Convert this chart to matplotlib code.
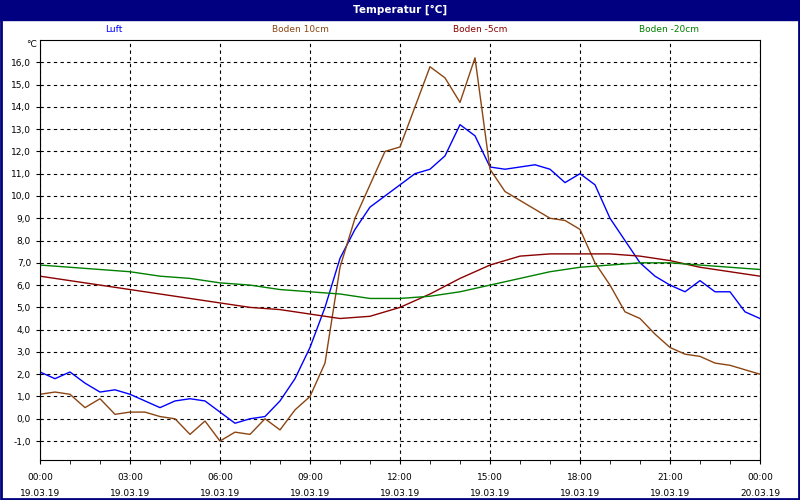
import numpy as np
import matplotlib.pyplot as plt
from matplotlib.patches import Rectangle

# Zeit in Stunden (halbstündlich bzw. stündlich)
t_half = np.arange(0, 24.01, 0.5)
t_hour = np.arange(0, 25, 1)

luft = [2.1, 1.8, 2.1, 1.6, 1.2, 1.3, 1.1, 0.8, 0.5, 0.8, 0.9, 0.8, 0.3, -0.2, 0.0, 0.1,
        0.8, 1.8, 3.2, 5.0, 7.2, 8.5, 9.5, 10.0, 10.5, 11.0, 11.2, 11.8, 13.2, 12.7, 11.3,
        11.2, 11.3, 11.4, 11.2, 10.6, 11.0, 10.5, 9.0, 8.0, 7.0, 6.4, 6.0, 5.7, 6.2, 5.7,
        5.7, 4.8, 4.5]
boden10 = [1.1, 1.2, 1.1, 0.5, 0.9, 0.2, 0.3, 0.3, 0.1, 0.0, -0.7, -0.1, -1.0, -0.6, -0.7,
           0.0, -0.5, 0.4, 1.0, 2.5, 6.8, 9.0, 10.5, 12.0, 12.2, 14.0, 15.8, 15.3, 14.2, 16.2,
           11.2, 10.2, 9.8, 9.4, 9.0, 8.9, 8.5, 7.0, 6.0, 4.8, 4.5, 3.8, 3.2, 2.9, 2.8, 2.5,
           2.4, 2.2, 2.0]
boden_5 = [6.4, 6.2, 6.0, 5.8, 5.6, 5.4, 5.2, 5.0, 4.9, 4.7, 4.5, 4.6, 5.0, 5.6, 6.3, 6.9,
           7.3, 7.4, 7.4, 7.4, 7.3, 7.1, 6.8, 6.6, 6.4]
boden_20 = [6.9, 6.8, 6.7, 6.6, 6.4, 6.3, 6.1, 6.0, 5.8, 5.7, 5.6, 5.4, 5.4, 5.5, 5.7, 6.0,
            6.3, 6.6, 6.8, 6.9, 7.0, 7.0, 6.9, 6.8, 6.7]

x_ticks = [0, 3, 6, 9, 12, 15, 18, 21, 24]
x_labels = ["00:00\n19.03.19", "03:00\n19.03.19", "06:00\n19.03.19", "09:00\n19.03.19",
            "12:00\n19.03.19", "15:00\n19.03.19", "18:00\n19.03.19", "21:00\n19.03.19",
            "00:00\n20.03.19"]
y_ticks = np.arange(-1, 17, 1)

plt.rcParams["font.family"] = "DejaVu Sans"
fig = plt.figure(figsize=(8, 5), dpi=100)

# Titelleiste und Rahmen
fig.patches.append(Rectangle((0, 0.96), 1, 0.04, transform=fig.transFigure, color="#000080"))
fig.patches.append(Rectangle((0.001, 0.002), 0.998, 0.996, transform=fig.transFigure,
                             fill=False, edgecolor="#000080", lw=2))
fig.text(0.5, 0.98, "Temperatur [°C]", color="white", fontsize=7.5, fontweight="bold",
         ha="center", va="center")

for xpos, name, col in [(0.142, "Luft", "#0000ff"), (0.375, "Boden 10cm", "#8b4513"),
                        (0.6, "Boden -5cm", "#8b0000"), (0.836, "Boden -20cm", "#008000")]:
    fig.text(xpos, 0.94, name, color=col, fontsize=6.5, ha="center", va="center")

ax = fig.add_axes([0.05, 0.08, 0.9, 0.84])
ax.plot(t_half, luft, color="#0000ff", lw=1)
ax.plot(t_half, boden10, color="#8b4513", lw=1)
ax.plot(t_hour, boden_5, color="#8b0000", lw=1)
ax.plot(t_hour, boden_20, color="#008000", lw=1)

ax.set_xlim(0, 24)
ax.set_ylim(-1.85, 17.0)
ax.set_xticks(x_ticks)
ax.set_xticklabels(x_labels, fontsize=6.5, linespacing=2.1)
ax.set_xticks(np.arange(0, 25, 1), minor=True)
ax.set_yticks(y_ticks)
ax.set_yticklabels([f"{v:.1f}".replace(".", ",") for v in y_ticks], fontsize=6.5)
ax.tick_params(which="both", length=3)
ax.tick_params(axis="x", pad=6)
ax.grid(True, color="black", linestyle=(0, (3, 3)), lw=0.8)
ax.text(-0.005, 1.0, "°C", transform=ax.transAxes, ha="right", va="top", fontsize=6.5)

fig.savefig("out.png", dpi=100)
